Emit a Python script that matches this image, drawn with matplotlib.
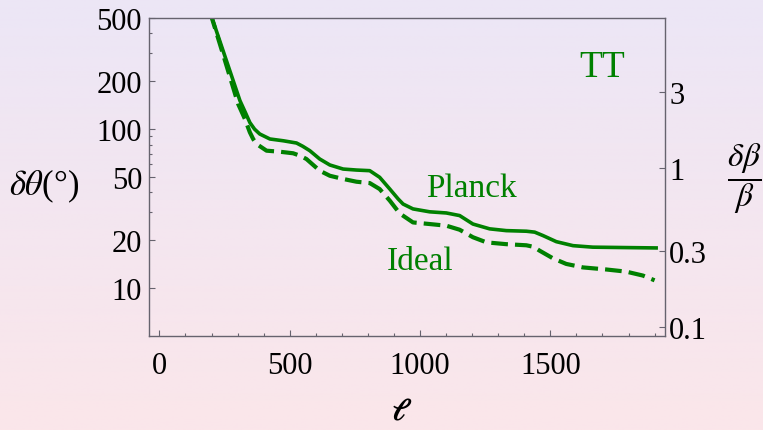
import numpy as np
import matplotlib
matplotlib.use("Agg")
import matplotlib.pyplot as plt
from matplotlib.ticker import FixedLocator, NullFormatter, NullLocator

plt.rcParams['font.family'] = 'serif'
plt.rcParams['font.serif'] = ['Liberation Serif', 'DejaVu Serif']
plt.rcParams['mathtext.fontset'] = 'stix'

# ---- data ----
ell_planck = [195, 255, 309, 330, 347, 365, 385, 424, 475, 526, 550, 577, 615, 654, 705,
              756, 807, 845, 884, 916, 935, 973, 1037, 1101, 1152, 1203, 1267, 1331,
              1408, 1440, 1472, 1523, 1587, 1663, 1780, 1906]
dtheta_planck = [540, 276, 151, 127, 110, 100, 93.2, 86.7, 84.5, 81.8, 78, 73.2, 64.9, 59.5, 56.1,
                 55.3, 54.8, 49.8, 42, 36.4, 33.8, 31.5, 30.2, 29.7, 28.6, 25.3, 23.6, 23.0,
                 22.8, 22.5, 21.4, 19.6, 18.5, 18.1, 18.0, 17.9]

ell_ideal = [195, 250, 302, 328, 347, 360, 373, 411, 462, 513, 540, 564, 615, 654, 705,
             756, 807, 845, 884, 922, 973, 1037, 1101, 1152, 1203, 1255, 1331, 1408,
             1435, 1459, 1510, 1561, 1625, 1715, 1791, 1855, 1900]
dtheta_ideal = [540, 275, 144, 115.9, 95.5, 86.5, 80.6, 73.2, 72.1, 70.5, 68, 64.9, 54.8, 50.9, 48.6,
                46.7, 45.8, 42, 35.5, 29.5, 25.9, 25.3, 24.7, 23.3, 20.9, 19.4, 18.9, 18.6,
                18.2, 17.2, 15.4, 14.2, 13.5, 13.1, 12.7, 12.0, 11.2]

x_ticks = [0, 500, 1000, 1500]
y_ticks_left = [10, 20, 50, 100, 200, 500]
y_minor_left = [30, 40, 60, 70, 80, 90, 300, 400]
y_ticks_right = [0.1, 0.3, 1, 3]

W, H = 763, 431
fig = plt.figure(figsize=(W / 100, H / 100), dpi=100)

# background gradient
bg = fig.add_axes([0, 0, 1, 1], zorder=-10)
top = np.array([236, 230, 246]) / 255
bot = np.array([251, 230, 234]) / 255
t = np.linspace(0, 1, 256)[:, None]
grad = top[None, :] * (1 - t) + bot[None, :] * t
bg.imshow(grad[:, None, :].repeat(2, axis=1), aspect='auto', extent=[0, 1, 0, 1])
bg.axis('off')

x0, x1 = 149 / W, 665 / W
y0, y1 = 1 - 337 / H, 1 - 19 / H
ax = fig.add_axes([x0, y0, x1 - x0, y1 - y0])
ax.patch.set_alpha(0)

green = '#008000'
ax.plot(ell_planck, dtheta_planck, color=green, lw=2.6, solid_joinstyle='round')
ax.plot(ell_ideal, dtheta_ideal, color=green, lw=3.0, dashes=(4.0, 1.7),
        dash_joinstyle='round')

ax.set_yscale('log')
ax.set_xlim(-40, 1940)
ax.set_ylim(5, 500)

frame_c = '#66636e'
for s in ax.spines.values():
    s.set_color(frame_c)
    s.set_linewidth(1.0)

ax.set_xticks(x_ticks)
ax.set_xticklabels([str(v) for v in x_ticks])
ax.xaxis.set_minor_locator(FixedLocator(np.arange(100, 1901, 100)))
ax.yaxis.set_major_locator(FixedLocator(y_ticks_left))
ax.yaxis.set_minor_locator(FixedLocator(y_minor_left))
ax.set_yticklabels([str(v) for v in y_ticks_left])
ax.yaxis.set_minor_formatter(NullFormatter())
ax.tick_params(axis='both', which='both', direction='in', color=frame_c, labelsize=22,
               top=False, right=False)
ax.tick_params(axis='x', which='major', length=4.2, width=0.8, pad=11)
ax.tick_params(axis='x', which='minor', length=2.4, width=0.8)
ax.tick_params(axis='y', which='major', length=4.5, width=0.8, pad=5)
ax.tick_params(axis='y', which='minor', length=2.2, width=0.8)

ax2 = ax.twinx()
ax2.set_yscale('log')
ax2.set_ylim(5 * np.pi / 180, 500 * np.pi / 180)
ax2.yaxis.set_major_locator(FixedLocator(y_ticks_right))
ax2.yaxis.set_minor_locator(NullLocator())
ax2.set_yticklabels([str(v) for v in y_ticks_right])
ax2.tick_params(axis='y', which='major', direction='in', length=4, width=0.8,
                color=frame_c, labelsize=22, pad=3)
for s in ax2.spines.values():
    s.set_visible(False)

# annotations
ax.text(1700, 216, 'TT', color=green, fontsize=27, ha='center', va='baseline')
ax.text(1196, 37.9, 'Planck', color=green, fontsize=24, ha='center', va='baseline')
ax.text(999, 13.2, 'Ideal', color=green, fontsize=24, ha='center', va='baseline')

fig.text(44 / W, 1 - 186 / H, r'$\delta\theta$(°)', fontsize=25, ha='center', va='center')
fig.text(744 / W, 1 - 179 / H, r'$\dfrac{\delta\beta}{\beta}$', fontsize=24,
         ha='center', va='center')
fig.text(402 / W, 1 - 413 / H, r'$\boldsymbol{\ell}$', fontsize=22, ha='center',
         va='center')

fig.savefig('out.png', dpi=100)
